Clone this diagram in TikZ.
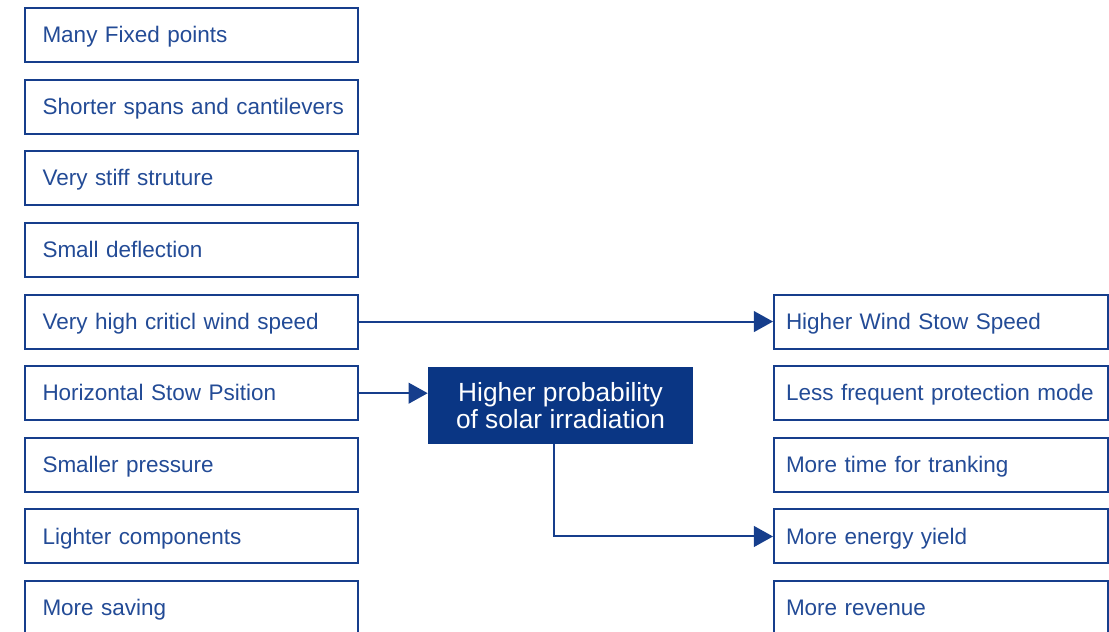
\documentclass[tikz,border=0pt]{standalone}
\usepackage{fontspec}
\setmainfont{Liberation Sans}
\usepackage{tikz}
\usepackage{xcolor}
\usetikzlibrary{arrows.meta}

\definecolor{boxblue}{RGB}{22,62,140}
\definecolor{textblue}{RGB}{35,75,150}
\definecolor{hubblue}{RGB}{10,54,132}

\begin{document}
\begin{tikzpicture}[scale=1.0,
    cause/.style={draw=boxblue, line width=1.4pt, minimum width=8.325cm, minimum height=1.35cm,
      text width=7.45cm, inner xsep=0.425cm, align=left, text=textblue,
      text height=1.27em, text depth=0.18em, font=\fontsize{16}{19}\selectfont},
    effect/.style={cause, minimum width=8.35cm, text width=7.75cm, inner xsep=0.3cm},
    hub/.style={fill=hubblue, minimum width=6.625cm, minimum height=1.925cm, align=center,
      text=white, font=\fontsize{18.7}{19}\selectfont},
    link/.style={draw=boxblue, line width=1.4pt, -{Triangle[length=0.48cm, width=0.52cm]}}]
  % Frame of the whole figure
  \useasboundingbox (0,0) rectangle (27.725,-15.8);
  % Left column: structure properties
  \foreach \txt [count=\i] in {Many Fixed points, Shorter spans and cantilevers, Very stiff struture,
      Small deflection, Very high criticl wind speed, Horizontal Stow Psition, Smaller pressure,
      Lighter components, More saving}
    \node[cause] (L\i) at (4.7875,{-0.875-(\i-1)*1.791}) {\mbox{\txt}};
  % Right column: benefits, starting level with row 5
  \foreach \txt [count=\i] in {Higher Wind Stow Speed, Less frequent protection mode,
      More time for tranking, More energy yield, More revenue}
    \node[effect] (R\i) at (23.525,{-0.875-(\i+3)*1.791}) {\mbox{\txt}};
  % Middle box
  \node[hub] (H) at (14.0125,-10.1375) {Higher probability\\of solar irradiation};
  % Arrows
  \draw[link] (L5.east) -- (R1.west);
  \draw[link] (L6.east) -- (L6.east -| H.west);
  \draw[link] ([xshift=-0.16cm]H.south) |- (R4.west);
\end{tikzpicture}
\end{document}
